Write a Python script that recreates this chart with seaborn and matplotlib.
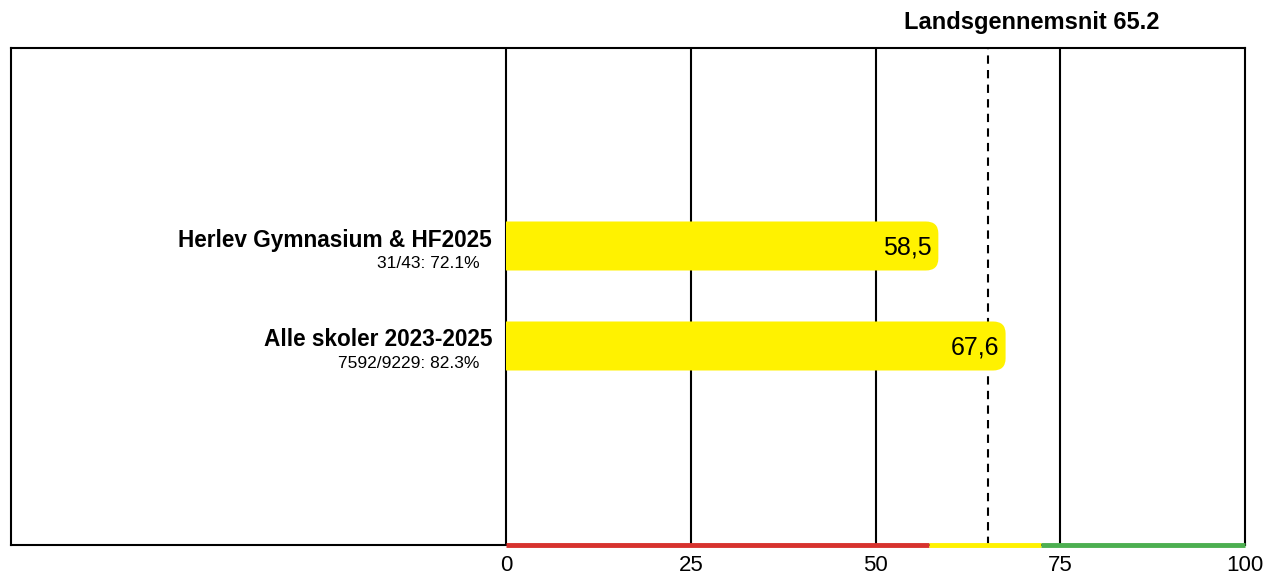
import pandas as pd
import matplotlib.pyplot as plt
import seaborn as sns
from matplotlib.patches import FancyBboxPatch, Rectangle
from matplotlib.collections import LineCollection

# Data
schools = ["Herlev Gymnasium & HF2025", "Alle skoler 2023-2025"]
subtitles = ["31/43: 72.1%", "7592/9229: 82.3%"]
scores = [58.5, 67.6]
score_labels = ["58,5", "67,6"]
national_avg = 65.2
band_edges = [0, 57.2, 72.4, 100]
band_colors = ["#d7322e", "#fff200", "#4caf50"]
ticks = [0, 25, 50, 75, 100]

df = pd.DataFrame({"school": schools, "score": scores})

sns.set_style("white")
plt.rcParams["font.family"] = ["Liberation Sans", "DejaVu Sans"]
plt.rcParams["text.color"] = "black"
plt.rcParams["xtick.color"] = "black"

fig = plt.figure(figsize=(12.66, 5.74), dpi=100)
ax = fig.add_axes([11 / 1266, 29 / 574, 1234 / 1266, 497 / 574])

# grid lines and national average behind bars
for t in ticks[:-1]:
    ax.axvline(t, color="black", lw=1.5, zorder=0)
ax.axvline(national_avg, color="black", lw=1.5, ls=(0, (4, 3)), zorder=0)

sns.barplot(data=df, x="score", y="school", color="#fff200", width=0.49,
            saturation=1, ax=ax, zorder=2)

# rounded right ends: replace each bar by a rounded box clipped at x=0
clip = Rectangle((0, -10), 200, 20, transform=ax.transData)
r = 1.7
for bar in list(ax.patches):
    x0, y0 = bar.get_x(), bar.get_y()
    w, h = bar.get_width(), bar.get_height()
    bar.set_visible(False)
    rounded = FancyBboxPatch((x0 - 3 * r, y0), w + 3 * r, h,
                             boxstyle=f"round,pad=0,rounding_size={r}",
                             mutation_aspect=0.12 / r,
                             fc="#fff200", ec="none", lw=0, zorder=2)
    ax.add_patch(rounded)
    rounded.set_clip_path(clip)

for i, (s, lab) in enumerate(zip(scores, score_labels)):
    ax.text(s - 0.9, i + 0.02, lab, ha="right", va="center", fontsize=18, zorder=3)
    ax.text(-1.9, i - 0.06, schools[i], ha="right", va="center",
            fontsize=16.3, fontweight="bold")
    ax.text(-3.6, i + 0.18, subtitles[i], ha="right", va="center", fontsize=12.5)

ax.set_xlim(-67, 100)
ax.set_ylim(2.99, -1.98)
ax.set_xticks(ticks)
ax.set_xticklabels([str(t) for t in ticks], fontsize=16)
ax.tick_params(axis="x", length=0, pad=7)
ax.set_yticks([])
ax.set_xlabel("")
ax.set_ylabel("")

for side in ["left", "top", "right", "bottom"]:
    ax.spines[side].set_color("black")
    ax.spines[side].set_linewidth(1.5)
    ax.spines[side].set_visible(True)

# coloured band along the bottom
ybot = ax.get_ylim()[0]
segs = [[(band_edges[i], ybot), (band_edges[i + 1], ybot)] for i in range(3)]
lc = LineCollection(segs, colors=band_colors, linewidths=3.5, zorder=5,
                    clip_on=False, capstyle="butt")
ax.add_collection(lc)

fig.text(1032 / 1266, 1 - 22 / 574, f"Landsgennemsnit {national_avg}",
         ha="center", va="center", fontsize=17, fontweight="bold")

fig.savefig("out.png", dpi=100)
